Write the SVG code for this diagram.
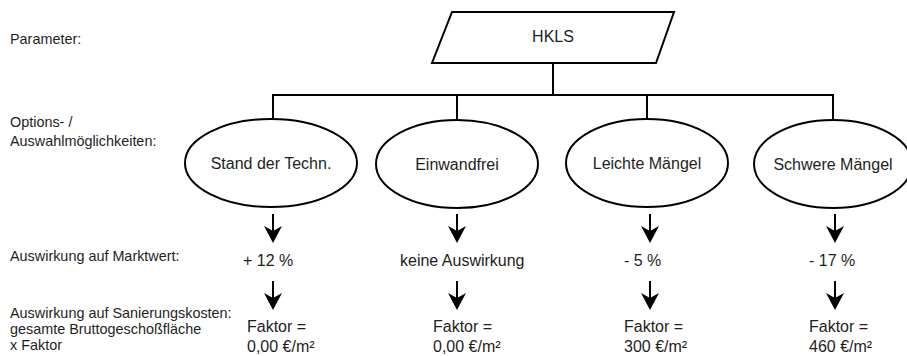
<svg xmlns="http://www.w3.org/2000/svg" width="907" height="356" viewBox="0 0 907 356">
  <style>
    .shape { fill: #ffffff; stroke: #000000; stroke-width: 2; }
    .line { fill: none; stroke: #000000; stroke-width: 2; }
    .head { fill: #000000; stroke: none; }
    .lbl { font-family: "Liberation Sans", Arial, sans-serif; font-size: 14.4px; fill: #1e1e1e; }
    .txt { font-family: "Liberation Sans", Arial, sans-serif; font-size: 16px; fill: #1e1e1e; }
    .mid { text-anchor: middle; }
  </style>
  <defs>
    <!-- down arrow: shaft plus notched head, tip at origin -->
    <g id="down">
      <line class="line" x1="0" y1="-29" x2="0" y2="-8"/>
      <path class="head" d="M0,0 L-9,-17 L0,-12 L9,-17 Z"/>
    </g>
  </defs>
  <rect width="907" height="356" fill="#ffffff"/>

  <!-- row labels -->
  <g id="row-labels">
    <text class="lbl" x="10" y="44">Parameter:</text>
    <text class="lbl" x="10" y="127">Options- /</text>
    <text class="lbl" x="10" y="146">Auswahlmöglichkeiten:</text>
    <text class="lbl" x="10" y="261">Auswirkung auf Marktwert:</text>
    <text class="lbl" x="10" y="318">Auswirkung auf Sanierungskosten:</text>
    <text class="lbl" x="10" y="334">gesamte Bruttogeschoßfläche</text>
    <text class="lbl" x="10" y="350">x Faktor</text>
  </g>

  <!-- tree connectors -->
  <g id="connectors">
    <path class="line" d="M553,63 V95"/>
    <path class="line" d="M273,118 V95 H833 V120"/>
    <path class="line" d="M457,95 V120"/>
    <path class="line" d="M647,95 V119"/>
    <use href="#down" x="273" y="243"/>
    <use href="#down" x="273" y="310"/>
    <use href="#down" x="457" y="243"/>
    <use href="#down" x="457" y="310"/>
    <use href="#down" x="650" y="243"/>
    <use href="#down" x="650" y="310"/>
    <use href="#down" x="835" y="243"/>
    <use href="#down" x="835" y="310"/>
  </g>

  <!-- parameter -->
  <g id="hkls">
    <polygon class="shape" points="452,12 674,12 656,63 432,63"/>
    <text class="txt mid" x="553" y="42">HKLS</text>
  </g>

  <!-- options -->
  <g id="opt-stand">
    <ellipse class="shape" cx="271" cy="163" rx="86" ry="44"/>
    <text class="txt mid" x="271" y="169">Stand der Techn.</text>
  </g>
  <g id="opt-einwandfrei">
    <ellipse class="shape" cx="457" cy="164" rx="81" ry="44"/>
    <text class="txt mid" x="457" y="170">Einwandfrei</text>
  </g>
  <g id="opt-leicht">
    <ellipse class="shape" cx="647" cy="163" rx="81" ry="44"/>
    <text class="txt mid" x="647" y="169">Leichte Mängel</text>
  </g>
  <g id="opt-schwer">
    <ellipse class="shape" cx="833" cy="164" rx="79" ry="44"/>
    <text class="txt mid" x="833" y="170">Schwere Mängel</text>
  </g>

  <!-- effects per option -->
  <g id="eff-stand">
    <text class="txt" x="243" y="266">+ 12 %</text>
    <text class="txt" x="247" y="331.5">Faktor =</text>
    <text class="txt" x="247" y="351.5">0,00 €/m²</text>
  </g>
  <g id="eff-einwandfrei">
    <text class="txt" x="400" y="266">keine Auswirkung</text>
    <text class="txt" x="433" y="331.5">Faktor =</text>
    <text class="txt" x="433" y="351.5">0,00 €/m²</text>
  </g>
  <g id="eff-leicht">
    <text class="txt" x="624" y="266">- 5 %</text>
    <text class="txt" x="624" y="331.5">Faktor =</text>
    <text class="txt" x="624" y="351.5">300 €/m²</text>
  </g>
  <g id="eff-schwer">
    <text class="txt" x="809" y="266">- 17 %</text>
    <text class="txt" x="809" y="331.5">Faktor =</text>
    <text class="txt" x="809" y="351.5">460 €/m²</text>
  </g>
</svg>
